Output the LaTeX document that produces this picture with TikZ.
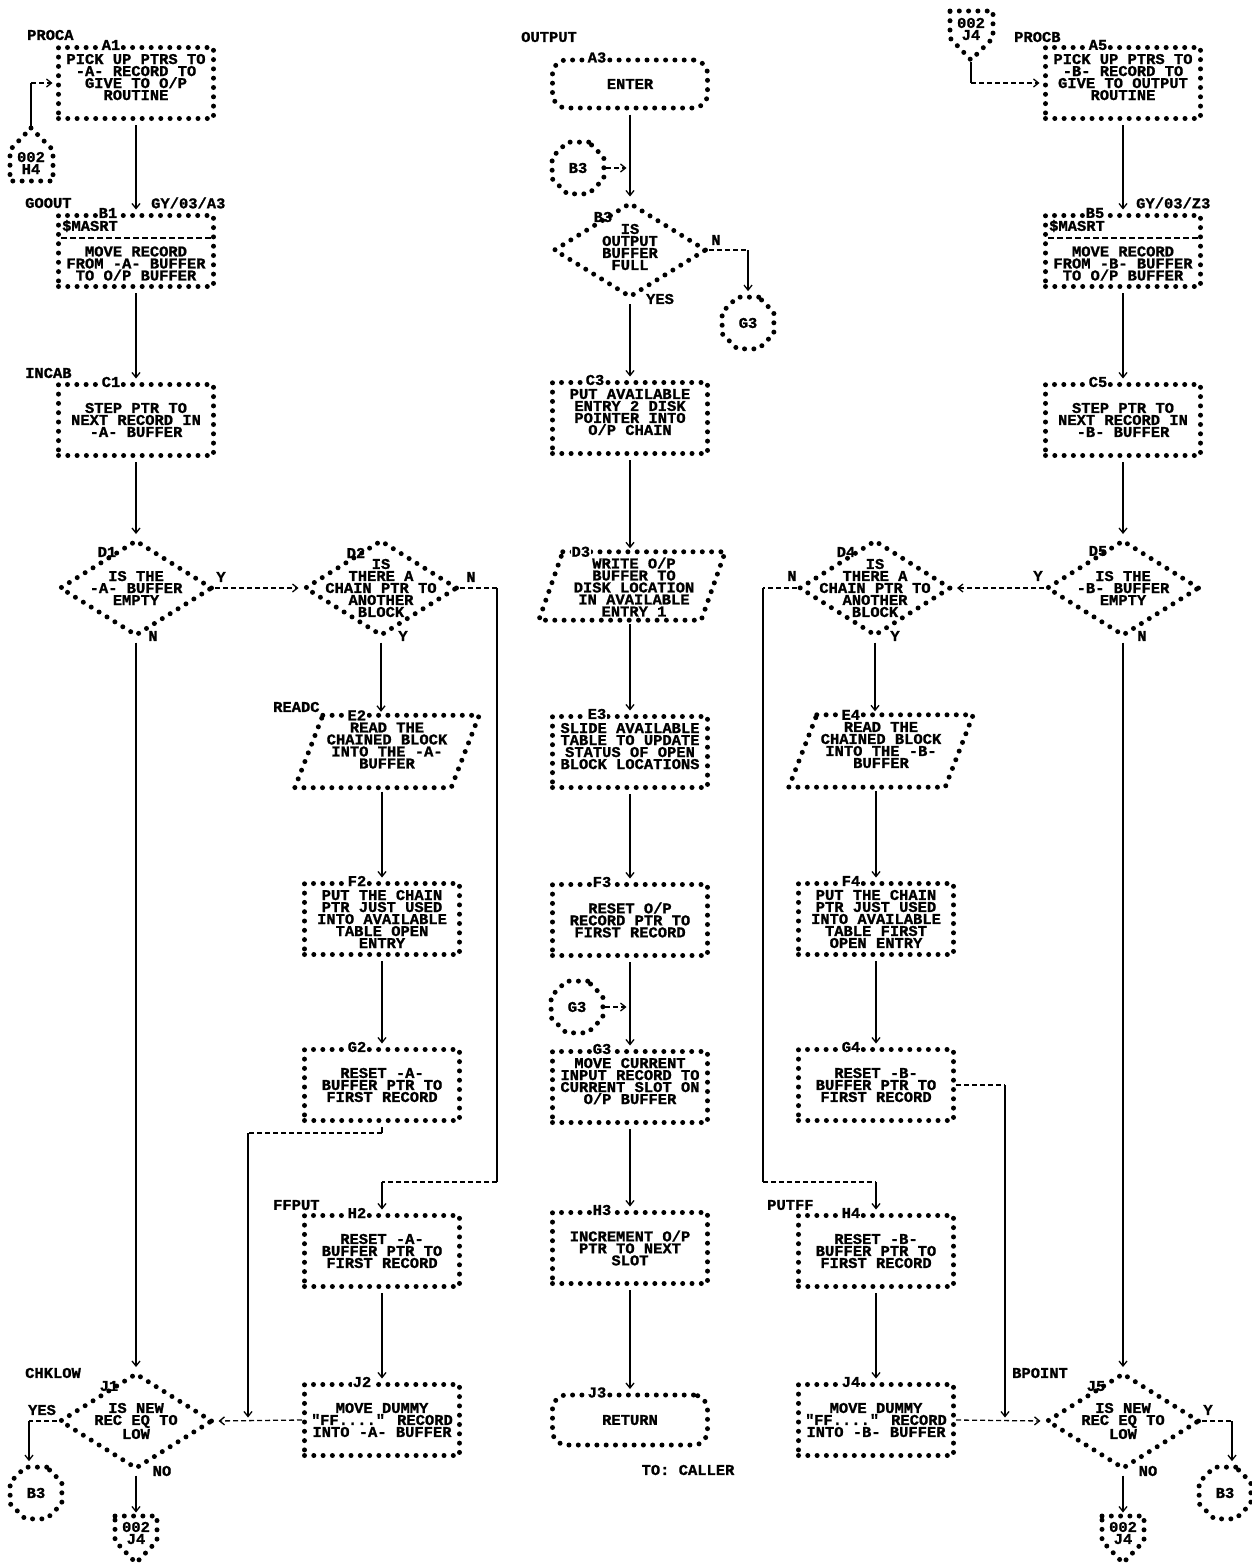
\documentclass[tikz,border=0pt]{standalone}
\usepackage{fontspec}
\setmainfont{Liberation Mono}[FakeStretch=1.03,BoldFeatures={FakeBold=1.2}]
\usetikzlibrary{arrows.meta,shapes.geometric}
\begin{document}
\begin{tikzpicture}[x=1pt,y=-1pt,
 every node/.style={font=\bfseries\fontsize{15}{12}\selectfont,inner sep=1pt},
 astline/.style={line width=5pt,line cap=round,dash pattern=on 0pt off 9.3pt},
 pbox/.style={rectangle,draw,astline,minimum width=155pt,minimum height=71pt,align=center,inner sep=2pt},
 term/.style={pbox,rounded corners=14pt,minimum height=48pt},
 dec/.style={diamond,draw,astline,minimum width=153pt,minimum height=96pt,inner sep=0pt},
 ptext/.style={rectangle,align=center,inner sep=0pt},
 parabox/.style={rectangle,align=center,inner sep=0pt,minimum width=156pt,minimum height=72pt},
 octo/.style={regular polygon,regular polygon sides=8,minimum size=56pt,draw,astline,inner sep=0pt},
 tag/.style={fill=white,inner sep=0.5pt},
 lbl/.style={anchor=west},
 flow/.style={line width=1.8pt},
 gapA/.style={shorten <=4pt},
 dflow/.style={line width=1.3pt,dash pattern=on 5pt off 3pt},
 arr/.style={-{Straight Barb[length=5pt,width=8pt,line width=1.3pt]},shorten >=3.5pt},
 sepline/.style={line width=1.2pt,dash pattern=on 6pt off 3pt}
]
\fill[white] (0,0) rectangle (1251,1567);
\useasboundingbox (0,0) rectangle (1251,1567);

% ================= column 1 =================
\node[lbl] (PROCA) at (26,35) {PROCA};
\node[pbox] (A1) at (136,83) {PICK UP PTRS TO\\-A- RECORD TO\\GIVE TO O/P\\ROUTINE\\\mbox{}};
\node[tag] (A1t) at ([xshift=55pt]A1.north west) {A1};

\node[ptext] (OPa) at (31,163) {002\\H4};
\draw[astline] (31,128) -- (53,150) -- (53,181) -- (10,181) -- (10,150) -- cycle;
\coordinate (OPatip) at (31,126);

\node[lbl] (GOOUT) at (24,203) {GOOUT};
\node[lbl] (GYa) at (150,203) {GY/03/A3};
\node[pbox] (B1) at (136,251) {\strut\\\strut\\MOVE RECORD\\FROM -A- BUFFER\\TO O/P BUFFER};
\node[tag] (B1t) at ([xshift=52pt]B1.north west) {B1};
\node[anchor=west] (B1s) at ([xshift=5pt,yshift=-13pt]B1.north west) {\$MASRT};
\draw[sepline] ([xshift=5pt,yshift=-25pt]B1.north west) -- ([xshift=-5pt,yshift=-25pt]B1.north east);

\node[lbl] (INCAB) at (24,373) {INCAB};
\node[pbox] (C1) at (136,420) {STEP PTR TO\\NEXT RECORD IN\\-A- BUFFER};
\node[tag] (C1t) at ([xshift=55pt]C1.north west) {C1};

\node[dec] (D1) at (136,588) {};
\node[ptext] (D1x) at (D1.center) {IS THE\\-A- BUFFER\\EMPTY};
\node (D1t) at ([shift={(-29,-36)}]D1.center) {D1};
\node (D1y) at (221,577) {Y};
\node (D1n) at (153,636) {N};

\node[lbl] (CHKLOW) at (24,1373) {CHKLOW};
\node[dec] (J1) at (136,1421) {};
\node[ptext] (J1x) at (J1.center) {IS NEW\\REC EQ TO\\LOW};
\node (J1t) at ([shift={(-27,-35)}]J1.center) {J1};
\node (J1y) at (42,1410) {YES};
\node (J1n) at (162,1471) {NO};

\node[octo] (B3l) at (36,1493) {B3};
\node[ptext] (OPc) at (136,1533) {002\\J4};
\draw[astline] (115,1516) -- (157,1516) -- (157,1541) -- (136,1563) -- (115,1541) -- cycle;
\coordinate (OPctop) at (136,1516);

% ================= column 2 =================
\node[dec] (D2) at (381,588) {};
\node[ptext] (D2x) at (D2.center) {IS\\THERE A\\CHAIN PTR TO\\ANOTHER\\BLOCK};
\node (D2t) at ([shift={(-25,-35)}]D2.center) {D2};
\node (D2n) at (471,577) {N};
\node (D2y) at (403,636) {Y};

\node[lbl] (READC) at (272,707) {READC};
\node[parabox] (E2) at (387,751.5) {READ THE\\CHAINED BLOCK\\INTO THE -A-\\BUFFER\\\mbox{}};
\draw[astline] ([xshift=14pt]E2.north west) -- ([xshift=14pt]E2.north east) -- ([xshift=-14pt]E2.south east) -- ([xshift=-14pt]E2.south west) -- cycle;
\node[tag] (E2t) at ([xshift=48pt]E2.north west) {E2};

\node[pbox] (F2) at (382,919) {PUT THE CHAIN\\PTR JUST USED\\INTO AVAILABLE\\TABLE OPEN\\ENTRY};
\node[tag] (F2t) at ([xshift=55pt]F2.north west) {F2};

\node[pbox] (G2) at (382,1085) {RESET -A-\\BUFFER PTR TO\\FIRST RECORD};
\node[tag] (G2t) at ([xshift=55pt]G2.north west) {G2};

\node[lbl] (FFPUT) at (272,1205) {FFPUT};
\node[pbox] (H2) at (382,1251) {RESET -A-\\BUFFER PTR TO\\FIRST RECORD};
\node[tag] (H2t) at ([xshift=55pt]H2.north west) {H2};

\node[pbox] (J2) at (382,1420) {MOVE DUMMY\\\textquotedbl FF....\textquotedbl{} RECORD\\INTO -A- BUFFER};
\node[tag] (J2t) at ([xshift=60pt]J2.north west) {J2};

% ================= column 3 =================
\node[lbl] (OUTPUT) at (520,37) {OUTPUT};
\node[term] (A3) at (630,84) {ENTER};
\node[tag] (A3t) at ([xshift=47pt]A3.north west) {A3};

\node[octo] (B3c) at (578,168) {B3};

\node[dec,minimum height=95pt] (B3) at (630,250) {};
\node[ptext] (B3x) at ([yshift=3pt]B3.center) {IS\\OUTPUT\\BUFFER\\FULL};
\node (B3t) at ([shift={(-27,-33)}]B3.center) {B3};
\node (B3n) at (716,240) {N};
\node (B3y) at (660,299) {YES};

\node[octo] (G3c) at (748,323) {G3};

\node[pbox] (C3) at (630,418) {PUT AVAILABLE\\ENTRY 2 DISK\\POINTER INTO\\O/P CHAIN\\\mbox{}};
\node[tag] (C3t) at ([xshift=45pt]C3.north west) {C3};

\node[parabox,minimum width=162pt,minimum height=68pt] (D3) at (632,586) {};
\node[ptext] (D3x) at (634,587) {WRITE O/P\\BUFFER TO\\DISK LOCATION\\IN AVAILABLE\\ENTRY 1};
\draw[astline] ([xshift=12pt]D3.north west) -- ([xshift=12pt]D3.north east) -- ([xshift=-12pt]D3.south east) -- ([xshift=-12pt]D3.south west) -- cycle;
\node[tag] (D3t) at ([xshift=30pt]D3.north west) {D3};

\node[pbox] (E3) at (630,752) {SLIDE AVAILABLE\\TABLE TO UPDATE\\STATUS OF OPEN\\BLOCK LOCATIONS\\\mbox{}};
\node[tag] (E3t) at ([xshift=47pt]E3.north west) {E3};

\node[pbox] (F3) at (630,920) {RESET O/P\\RECORD PTR TO\\FIRST RECORD};
\node[tag] (F3t) at ([xshift=52pt]F3.north west) {F3};

\node[octo] (G3d) at (577,1007) {G3};

\node[pbox] (G3) at (630,1087) {MOVE CURRENT\\INPUT RECORD TO\\CURRENT SLOT ON\\O/P BUFFER\\\mbox{}};
\node[tag] (G3t) at ([xshift=52pt]G3.north west) {G3};

\node[pbox] (H3) at (630,1248) {INCREMENT O/P\\PTR TO NEXT\\SLOT};
\node[tag] (H3t) at ([xshift=52pt]H3.north west) {H3};

\node[term,minimum height=50pt] (J3) at (630,1420) {RETURN};
\node[tag] (J3t) at ([xshift=47pt]J3.north west) {J3};
\node (CALLER) at (688,1470) {TO: CALLER};

% ================= column 4 =================
\node[dec,minimum width=152pt] (D4) at (875,588) {};
\node[ptext] (D4x) at (D4.center) {IS\\THERE A\\CHAIN PTR TO\\ANOTHER\\BLOCK};
\node (D4t) at ([shift={(-29,-36)}]D4.center) {D4};
\node (D4n) at (792,576) {N};
\node (D4y) at (895,636) {Y};

\node[parabox] (E4) at (881,751) {READ THE\\CHAINED BLOCK\\INTO THE -B-\\BUFFER\\\mbox{}};
\draw[astline] ([xshift=14pt]E4.north west) -- ([xshift=14pt]E4.north east) -- ([xshift=-14pt]E4.south east) -- ([xshift=-14pt]E4.south west) -- cycle;
\node[tag] (E4t) at ([xshift=48pt]E4.north west) {E4};

\node[pbox] (F4) at (876,919) {PUT THE CHAIN\\PTR JUST USED\\INTO AVAILABLE\\TABLE FIRST\\OPEN ENTRY};
\node[tag] (F4t) at ([xshift=55pt]F4.north west) {F4};

\node[pbox] (G4) at (876,1085) {RESET -B-\\BUFFER PTR TO\\FIRST RECORD};
\node[tag] (G4t) at ([xshift=55pt]G4.north west) {G4};

\node[lbl] (PUTFF) at (766,1205) {PUTFF};
\node[pbox] (H4) at (876,1251) {RESET -B-\\BUFFER PTR TO\\FIRST RECORD};
\node[tag] (H4t) at ([xshift=55pt]H4.north west) {H4};

\node[pbox] (J4) at (876,1420) {MOVE DUMMY\\\textquotedbl FF....\textquotedbl{} RECORD\\INTO -B- BUFFER};
\node[tag] (J4t) at ([xshift=55pt]J4.north west) {J4};

% ================= column 5 =================
\node[ptext] (OPb) at (971,29) {002\\J4};
\draw[astline] (950,11) -- (993,11) -- (993,38) -- (971,60) -- (950,38) -- cycle;
\coordinate (OPbtip) at (971,62);

\node[lbl] (PROCB) at (1013,37) {PROCB};
\node[pbox] (A5) at (1123,83) {PICK UP PTRS TO\\-B- RECORD TO\\GIVE TO OUTPUT\\ROUTINE\\\mbox{}};
\node[tag] (A5t) at ([xshift=55pt]A5.north west) {A5};

\node[lbl] (GYb) at (1135,203) {GY/03/Z3};
\node[pbox] (B5) at (1123,251) {\strut\\\strut\\MOVE RECORD\\FROM -B- BUFFER\\TO O/P BUFFER};
\node[tag] (B5t) at ([xshift=52pt]B5.north west) {B5};
\node[anchor=west] (B5s) at ([xshift=5pt,yshift=-13pt]B5.north west) {\$MASRT};
\draw[sepline] ([xshift=5pt,yshift=-25pt]B5.north west) -- ([xshift=-5pt,yshift=-25pt]B5.north east);

\node[pbox] (C5) at (1123,420) {STEP PTR TO\\NEXT RECORD IN\\-B- BUFFER};
\node[tag] (C5t) at ([xshift=55pt]C5.north west) {C5};

\node[dec] (D5) at (1123,588) {};
\node[ptext] (D5x) at (D5.center) {IS THE\\-B- BUFFER\\EMPTY};
\node (D5t) at ([shift={(-25,-37)}]D5.center) {D5};
\node (D5y) at (1038,576) {Y};
\node (D5n) at (1142,636) {N};

\node[lbl] (BPOINT) at (1011,1373) {BPOINT};
\node[dec] (J5) at (1123,1421) {};
\node[ptext] (J5x) at (J5.center) {IS NEW\\REC EQ TO\\LOW};
\node (J5t) at ([shift={(-27,-35)}]J5.center) {J5};
\node (J5y) at (1208,1410) {Y};
\node (J5n) at (1148,1471) {NO};

\node[octo] (B3r) at (1225,1493) {B3};
\node[ptext] (OPd) at (1123,1533) {002\\J4};
\draw[astline] (1102,1516) -- (1144,1516) -- (1144,1541) -- (1123,1563) -- (1102,1541) -- cycle;
\coordinate (OPdtop) at (1123,1516);

% ================= corner coordinates =================
\coordinate (d2a) at (497,588);
\coordinate (d2b) at (497,1182);
\coordinate (d2c) at (382,1182);
\coordinate (d4a) at (763,588);
\coordinate (d4b) at (763,1182);
\coordinate (d4c) at (876,1182);
\coordinate (g2a) at (382,1133);
\coordinate (g2b) at (248,1133);
\coordinate (g2c) at (248,1421);
\coordinate (g4a) at (1005,1085);
\coordinate (g4b) at (1005,1421);
\coordinate (b3a) at (748,250);
\coordinate (j1a) at (29,1421);
\coordinate (j5a) at (1232,1421);

% ================= connectors =================
% column 1
\draw[flow] (OPatip) -- (OPatip |- A1.west);
\draw[dflow,arr] (OPatip |- A1.west) -- (A1.west);
\draw[flow,gapA,arr] (A1.south) -- (B1.north);
\draw[flow,gapA,arr] (B1.south) -- (C1.north);
\draw[flow,gapA,arr] (C1.south) -- (D1.north);
\draw[flow,gapA,arr] (D1.south) -- (J1.north);
\draw[dflow,arr] (D1.east) -- (D2.west);
\draw[dflow] (J1.west) -- (j1a);
\draw[flow,arr] (j1a) -- (j1a |- B3l.north);
\draw[flow,gapA,arr] (J1.south) -- (OPctop);
% column 2
\draw[dflow] (D2.east) -- (d2a);
\draw[flow] (d2a) -- (d2b);
\draw[dflow] (d2b) -- (d2c);
\draw[flow,arr] (d2c) -- (H2.north);
\draw[flow,gapA,arr] (D2.south) -- (D2.south |- E2.north);
\draw[flow,gapA,arr] (F2.north |- E2.south) -- (F2.north);
\draw[flow,gapA,arr] (F2.south) -- (G2.north);
\draw[flow,gapA] (G2.south) -- (g2a);
\draw[dflow] (g2a) -- (g2b);
\draw[flow,arr] (g2b) -- (g2c);
\draw[flow,gapA,arr] (H2.south) -- (J2.north);
\draw[dflow,arr] (J2.west) -- (J1.east);
% column 3
\draw[flow,gapA,arr] (A3.south) -- (B3.north);
\draw[dflow,arr] (B3c.east) -- (B3c.east -| A3.south);
\draw[dflow] (B3.east) -- (b3a);
\draw[flow,arr] (b3a) -- (G3c.north);
\draw[flow,gapA,arr] (B3.south) -- (C3.north);
\draw[flow,gapA,arr] (C3.south) -- (C3.south |- D3.north);
\draw[flow,gapA,arr] (E3.north |- D3.south) -- (E3.north);
\draw[flow,gapA,arr] (E3.south) -- (F3.north);
\draw[flow,gapA,arr] (F3.south) -- (G3.north);
\draw[dflow,arr] (G3d.east) -- (G3d.east -| F3.south);
\draw[flow,gapA,arr] (G3.south) -- (H3.north);
\draw[flow,gapA,arr] (H3.south) -- (J3.north);
% column 4
\draw[dflow,arr] (D5.west) -- (D4.east);
\draw[dflow] (D4.west) -- (d4a);
\draw[flow] (d4a) -- (d4b);
\draw[dflow] (d4b) -- (d4c);
\draw[flow,arr] (d4c) -- (H4.north);
\draw[flow,gapA,arr] (D4.south) -- (D4.south |- E4.north);
\draw[flow,gapA,arr] (F4.north |- E4.south) -- (F4.north);
\draw[flow,gapA,arr] (F4.south) -- (G4.north);
\draw[dflow] (G4.east) -- (g4a);
\draw[flow,arr] (g4a) -- (g4b);
\draw[flow,gapA,arr] (H4.south) -- (J4.north);
\draw[dflow,arr] (J4.east) -- (J5.west);
% column 5
\draw[flow] (OPbtip) -- (OPbtip |- A5.west);
\draw[dflow,arr] (OPbtip |- A5.west) -- (A5.west);
\draw[flow,gapA,arr] (A5.south) -- (B5.north);
\draw[flow,gapA,arr] (B5.south) -- (C5.north);
\draw[flow,gapA,arr] (C5.south) -- (D5.north);
\draw[flow,gapA,arr] (D5.south) -- (J5.north);
\draw[dflow] (J5.east) -- (j5a);
\draw[flow,arr] (j5a) -- (j5a |- B3r.north);
\draw[flow,gapA,arr] (J5.south) -- (OPdtop);
\end{tikzpicture}
\end{document}
